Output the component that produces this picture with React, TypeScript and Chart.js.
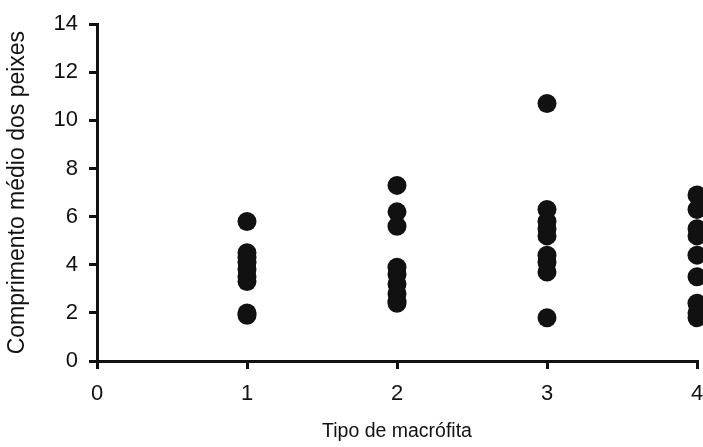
import React, { useEffect, useRef } from "react";
import { Chart, registerables } from "chart.js";

Chart.register(...registerables);

const xTicks = [0, 1, 2, 3, 4];
const yTicks = [0, 2, 4, 6, 8, 10, 12, 14];
const group1 = [5.8, 4.5, 4.3, 4.1, 3.8, 3.5, 3.3, 2.0, 1.9];
const group2 = [7.3, 6.2, 5.6, 3.9, 3.6, 3.2, 2.8, 2.5, 2.4];
const group3 = [10.7, 6.3, 5.8, 5.5, 5.2, 4.4, 4.1, 3.7, 1.8];
const group4 = [6.9, 6.3, 5.5, 5.2, 4.4, 3.5, 2.4, 2.0, 1.8];
const groups = [group1, group2, group3, group4];
const xTitle = "Tipo de macrófita";
const yTitle = "Comprimento médio dos peixes";

export default function App() {
  const ref = useRef<HTMLCanvasElement | null>(null);
  useEffect(() => {
    if (!ref.current) return;
    const points: { x: number; y: number }[] = [];
    groups.forEach((g, i) => g.forEach((v) => points.push({ x: i + 1, y: v })));
    const font = "'Liberation Sans', Arial, Helvetica, sans-serif";
    const ink = "#111111";
    const chart = new Chart(ref.current, {
      type: "scatter",
      data: {
        datasets: [
          {
            data: points,
            backgroundColor: ink,
            borderColor: ink,
            borderWidth: 0,
            pointRadius: 9.5,
            pointHoverRadius: 9.5,
            clip: false as any,
          },
        ],
      },
      options: {
        animation: false,
        responsive: false,
        maintainAspectRatio: false,
        layout: { autoPadding: false, padding: { top: 22, right: 6, left: 0, bottom: 0 } },
        plugins: { legend: { display: false }, tooltip: { enabled: false } },
        scales: {
          x: {
            type: "linear",
            min: 0,
            max: 4,
            afterBuildTicks: (s: any) => {
              s.ticks = xTicks.map((v) => ({ value: v }));
            },
            afterFit: (s: any) => {
              s.height = 86;
              s.paddingRight = 0;
              s.paddingLeft = 0;
            },
            border: { display: true, color: ink, width: 3 },
            grid: {
              display: true,
              drawOnChartArea: false,
              drawTicks: true,
              tickLength: 8,
              lineWidth: 3,
              color: ink,
            },
            ticks: {
              padding: 12,
              color: ink,
              font: { family: font, size: 22 },
              maxRotation: 0,
            },
            title: {
              display: true,
              text: xTitle,
              color: ink,
              font: { family: font, size: 19.5 },
              padding: { top: 2, bottom: 4 },
            },
          },
          y: {
            type: "linear",
            min: 0,
            max: 14,
            afterBuildTicks: (s: any) => {
              s.ticks = yTicks.map((v) => ({ value: v }));
            },
            afterFit: (s: any) => {
              s.width = 97;
            },
            border: { display: true, color: ink, width: 3 },
            grid: {
              display: true,
              drawOnChartArea: false,
              drawTicks: true,
              tickLength: 8,
              lineWidth: 3,
              color: ink,
            },
            ticks: {
              padding: 11,
              color: ink,
              font: { family: font, size: 22 },
            },
            title: {
              display: true,
              text: yTitle,
              color: ink,
              font: { family: font, size: 23 },
              padding: { top: 4, bottom: 4 },
            },
          },
        },
      },
    });
    return () => chart.destroy();
  }, []);
  return (
    <div style={{ position: "fixed", left: 0, top: 0, width: 703, height: 447, background: "#fff" }}>
      <canvas ref={ref} width={703} height={447} style={{ width: 703, height: 447, display: "block" }} />
    </div>
  );
}
